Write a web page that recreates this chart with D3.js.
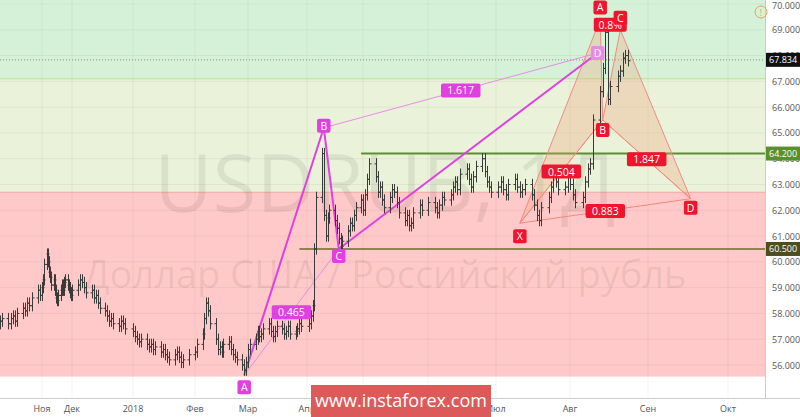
<!DOCTYPE html>
<html><head><meta charset="utf-8">
<script src="https://cdn.jsdelivr.net/npm/d3@7"></script>
<style>body{margin:0;background:#fff}text{font-family:"Open Sans",Roboto,sans-serif}</style>
</head><body><svg id="c" width="800" height="417"></svg>
<script>
// daily closes, month by month
var octC = [57.7,57.8,57.6,57.8,57.9,57.7,58.0,58.2,58.1,58.4,58.3,58.6,58.9,58.7];
var novC = [59.0,59.3,59.9,60.3,60.0,59.6,59.4,59.1,59.3,58.9,58.6,58.5,58.7,58.9,59.1,58.9,59.2,59.3,59.1,59.0,58.8,58.7];
var decC = [58.9,59.1,59.3,59.2,59.0,58.8,58.9,58.6,58.7,58.4,58.2,58.1,57.9,57.7,57.8,57.6,57.5,57.7,57.6,57.4];
var janC = [57.3,57.1,57.0,56.9,57.0,56.8,56.7,56.8,56.6,56.7,56.5,56.6,56.4,56.3,56.2,56.4,56.5,56.3,56.1,56.2,56.4];
var febC = [56.5,56.8,57.2,57.8,58.4,58.1,57.6,57.0,56.6,56.7,56.5,56.8,56.9,56.6,56.4,56.3,56.2,56.0,55.8,56.1];
var marC = [56.6,56.8,57.0,57.3,57.1,57.2,57.4,57.6,57.3,57.1,57.3,57.5,57.4,57.2,57.3,57.5,57.2,57.3,57.4,57.6,57.5];
var aprC = [57.6,57.9,58.3,60.5,62.5,64.2,61.8,61.0,61.7,62.0,61.6,61.3,60.9,60.6,60.8,61.2,61.5,61.4,61.8,62.1,62.4];
var mayC = [62.0,62.6,63.2,63.8,63.3,62.7,62.9,62.4,62.1,62.5,62.8,62.7,62.3,61.9,61.6,61.8,61.4,61.5,61.9,62.2,62.0];
var junC = [62.3,62.1,61.9,62.2,62.5,62.4,62.6,62.9,63.1,62.8,63.4,63.6,63.2,62.9,63.3,63.7,64.0,63.5,63.1,62.9,62.7];
var julC = [62.9,63.1,62.8,62.6,63.0,63.2,62.9,62.7,62.8,63.0,62.6,62.2,61.8,61.6,62.1,62.5,62.9,63.3,63.1,62.8,62.9,63.4];
var augC = [63.0,62.6,62.3,62.5,63.1,63.6,63.8,65.5,66.6,67.5,68.9,66.3,66.8,67.2,67.4,67.9,68.0,67.8];
var monthStarts = ["2017-10-12","2017-11-01","2017-12-01","2018-01-01","2018-02-01","2018-03-01","2018-04-01","2018-05-01","2018-06-01","2018-07-01","2018-08-01"];

var tickDates = ["2017-11-01","2017-12-01","2018-01-01","2018-02-01","2018-03-01","2018-04-01","2018-05-01","2018-06-01","2018-07-01","2018-08-01","2018-09-01","2018-10-01"];
var tickLabels = ["Ноя","Дек","2018","Фев","Мар","Апр","Май","Июн","Июл","Авг","Сен","Окт"];
var priceTicks = [56,57,58,59,60,61,62,63,64,65,66,67,68,69,70];

// harmonic patterns
var abcdNames = ["A","B","C","D"];
var abcdDates = ["2018-02-27","2018-04-10","2018-04-18","2018-08-12"];
var abcdPrices = [55.6,65.2,60.5,68.1];
var xabcdNames = ["X","A","B","C","D"];
var xabcdDates = ["2018-07-11","2018-08-13","2018-08-14","2018-08-21","2018-09-17"];
var xabcdPrices = [61.5,69.4,65.5,69.0,62.45];
var lastPrice = 67.834;

var svg = d3.select("#c");
var W = 765, parse = d3.timeParse("%Y-%m-%d");

// month label positions on screen (the time axis is not linear in days)
var x = d3.scaleTime()
  .domain(["2017-10-12"].concat(tickDates).map(parse))
  .range([0,42,72,133,195,248,307,363,428,496,570,648,728]);
var y = d3.scaleLinear().domain([56,70]).range([365,4]);

// build bars
var closes = [octC,novC,decC,janC,febC,marC,aprC,mayC,junC,julC,augC];
var bars = [];
var prev = 57.6;
closes.forEach(function(arr, m){
  var s = parse(monthStarts[m]);
  var e = d3.timeMonth.offset(d3.timeMonth.floor(s), 1);
  var days = d3.timeDay.range(s, e).filter(function(d){ return d.getDay() > 0 && d.getDay() < 6; });
  arr.forEach(function(c, i){
    var d = days[Math.min(i, days.length - 1)];
    var o = prev;
    bars.push({d: d, o: o, c: c, h: Math.max(o, c) + 0.22, l: Math.min(o, c) - 0.22});
    prev = c;
  });
});

// background bands
svg.append("rect").attr("x",0).attr("y",0).attr("width",W).attr("height",y(67.1)).attr("fill","#d5f2d8");
svg.append("rect").attr("x",0).attr("y",y(67.1)).attr("width",W).attr("height",y(62.7)-y(67.1)).attr("fill","#eaf3d9");
svg.append("rect").attr("x",0).attr("y",y(62.7)).attr("width",W).attr("height",y(55.55)-y(62.7)).attr("fill","#ffc9c9");
svg.append("line").attr("x1",0).attr("x2",W).attr("y1",y(67.1)).attr("y2",y(67.1)).attr("stroke","#b9df8d");
svg.append("line").attr("x1",0).attr("x2",W).attr("y1",y(62.7)).attr("y2",y(62.7)).attr("stroke","#f0a99a");

// grid
svg.selectAll(".vg").data(tickDates).enter().append("line")
  .attr("x1", d => x(parse(d))).attr("x2", d => x(parse(d)))
  .attr("y1",0).attr("y2",398).attr("stroke","#000").attr("stroke-opacity",0.05);
svg.selectAll(".hg").data(priceTicks).enter().append("line")
  .attr("x1",0).attr("x2",W).attr("y1", d => y(d)).attr("y2", d => y(d))
  .attr("stroke","#000").attr("stroke-opacity",0.05);

// watermark
svg.append("text").attr("x",385).attr("y",212).attr("text-anchor","middle")
  .attr("font-size",80).attr("fill","#000").attr("fill-opacity",0.07).text("USDRUB, 1Д");
svg.append("text").attr("x",385).attr("y",288).attr("text-anchor","middle")
  .attr("font-size",38).attr("fill","#000").attr("fill-opacity",0.07).text("Доллар США / Российский рубль");

// horizontal levels
svg.append("line").attr("x1",0).attr("x2",W).attr("y1",y(lastPrice)).attr("y2",y(lastPrice))
  .attr("stroke","#888").attr("stroke-dasharray","1,2");
svg.append("line").attr("x1",x(parse("2018-04-30"))).attr("x2",W).attr("y1",y(64.2)).attr("y2",y(64.2))
  .attr("stroke","#5a8f2e").attr("stroke-width",2);
svg.append("line").attr("x1",x(parse("2018-03-28"))).attr("x2",W).attr("y1",y(60.5)).attr("y2",y(60.5))
  .attr("stroke","#6b6b2a").attr("stroke-width",1.5);

// red XABCD pattern
var xp = xabcdDates.map((d,i) => [x(parse(d)), y(xabcdPrices[i])]);
[[0,1,2],[2,3,4]].forEach(function(t){
  svg.append("path").attr("d", d3.line()(t.map(i => xp[i])) + "Z")
    .attr("fill","#f2a07b").attr("fill-opacity",0.3).attr("stroke","#f28b7b").attr("stroke-width",1);
});
[[0,2],[1,3],[2,4],[0,4]].forEach(function(p){
  svg.append("line").attr("x1",xp[p[0]][0]).attr("y1",xp[p[0]][1]).attr("x2",xp[p[1]][0]).attr("y2",xp[p[1]][1])
    .attr("stroke","#f28b7b").attr("stroke-width",1);
});

// magenta ABCD pattern
var mp = abcdDates.map((d,i) => [x(parse(d)), y(abcdPrices[i])]);
svg.append("path").attr("d", d3.line()(mp)).attr("fill","none").attr("stroke","#e040e0").attr("stroke-width",2);
[[0,2],[1,3]].forEach(function(p){
  svg.append("line").attr("x1",mp[p[0]][0]).attr("y1",mp[p[0]][1]).attr("x2",mp[p[1]][0]).attr("y2",mp[p[1]][1])
    .attr("stroke","#e88be8").attr("stroke-width",1);
});

// OHLC bars
var g = svg.append("g").attr("stroke","#3a3a3a").attr("stroke-width",1);
bars.forEach(function(b){
  var cx = Math.round(x(b.d)) + 0.5;
  g.append("line").attr("x1",cx).attr("x2",cx).attr("y1",y(b.h)).attr("y2",y(b.l));
  g.append("line").attr("x1",cx-2).attr("x2",cx).attr("y1",y(b.o)).attr("y2",y(b.o));
  g.append("line").attr("x1",cx).attr("x2",cx+2).attr("y1",y(b.c)).attr("y2",y(b.c));
});

// labels
function tag(cx, cy, txt, fill){
  var w = txt.length * 6.5 + 7;
  svg.append("rect").attr("x",cx - w/2).attr("y",cy - 7).attr("width",w).attr("height",14).attr("rx",2).attr("fill",fill);
  svg.append("text").attr("x",cx).attr("y",cy + 4).attr("text-anchor","middle").attr("font-size",10.5).attr("fill","#fff").text(txt);
}
function mid(a, b, dx, dy){ return [(a[0]+b[0])/2 + dx, (a[1]+b[1])/2 + dy]; }
var m;
m = mid(mp[0],mp[2],0,0); tag(m[0], m[1], "0.465", "#e040e0");
m = mid(mp[1],mp[3],0,0); tag(m[0], m[1], "1.617", "#e040e0");
tag(mp[0][0], mp[0][1] + 12, "A", "#e040e0");
tag(mp[1][0], mp[1][1] - 2, "B", "#e040e0");
tag(mp[2][0], mp[2][1] + 7, "C", "#e040e0");
tag(mp[3][0], mp[3][1], "D", "#e88be8");
m = mid(xp[0],xp[2],0,0); tag(m[0], m[1], "0.504", "#f0142d");
m = mid(xp[1],xp[3],0,0); tag(m[0], m[1], "0.8%", "#f0142d");
m = mid(xp[2],xp[4],0,0); tag(m[0], m[1], "1.847", "#f0142d");
m = mid(xp[0],xp[4],0,0); tag(m[0], m[1], "0.883", "#f0142d");
tag(xp[0][0], xp[0][1] + 13, "X", "#f0142d");
tag(xp[1][0], xp[1][1] - 12, "A", "#f0142d");
tag(xp[2][0], xp[2][1] + 10, "B", "#f0142d");
tag(xp[3][0], xp[3][1] - 12, "C", "#f0142d");
tag(xp[4][0], xp[4][1] + 9, "D", "#f0142d");

// right axis
svg.append("rect").attr("x",W).attr("y",0).attr("width",35).attr("height",417).attr("fill","#fff");
svg.append("line").attr("x1",W+0.5).attr("x2",W+0.5).attr("y1",0).attr("y2",398).attr("stroke","#ccc");
svg.selectAll(".pt").data(priceTicks).enter().append("text")
  .attr("x",772).attr("y", d => Math.max(y(d) + 3.5, 9)).attr("font-size",9).attr("fill","#555").text(d => d3.format(".3f")(d));
function ptag(p, fill){
  svg.append("rect").attr("x",W+1).attr("y",y(p)-7).attr("width",34).attr("height",14).attr("fill",fill);
  svg.append("text").attr("x",W+4).attr("y",y(p)+3.5).attr("font-size",9).attr("fill","#fff").text(d3.format(".3f")(p));
}
ptag(lastPrice, "#111");
ptag(64.2, "#5a8f2e");
ptag(60.5, "#4d4d20");

// bottom axis
svg.append("line").attr("x1",0).attr("x2",800).attr("y1",398.5).attr("y2",398.5).attr("stroke","#ccc");
svg.selectAll(".xt").data(tickDates).enter().append("text")
  .attr("x", d => x(parse(d))).attr("y",412).attr("text-anchor","middle")
  .attr("font-size",9).attr("fill","#555").text((d,i) => tickLabels[i]);

// alert icon
svg.append("circle").attr("cx",761).attr("cy",12).attr("r",6).attr("fill","none").attr("stroke","#f0a050");
svg.append("text").attr("x",761).attr("y",15.5).attr("text-anchor","middle").attr("font-size",9).attr("fill","#f0a050").text("!");

// site badge
svg.append("rect").attr("x",311).attr("y",385).attr("width",180).attr("height",32).attr("fill","#dd5a5a");
svg.append("text").attr("x",401).attr("y",407).attr("text-anchor","middle").attr("font-size",18).attr("fill","#fff").text("www.instaforex.com");
</script></body></html>
